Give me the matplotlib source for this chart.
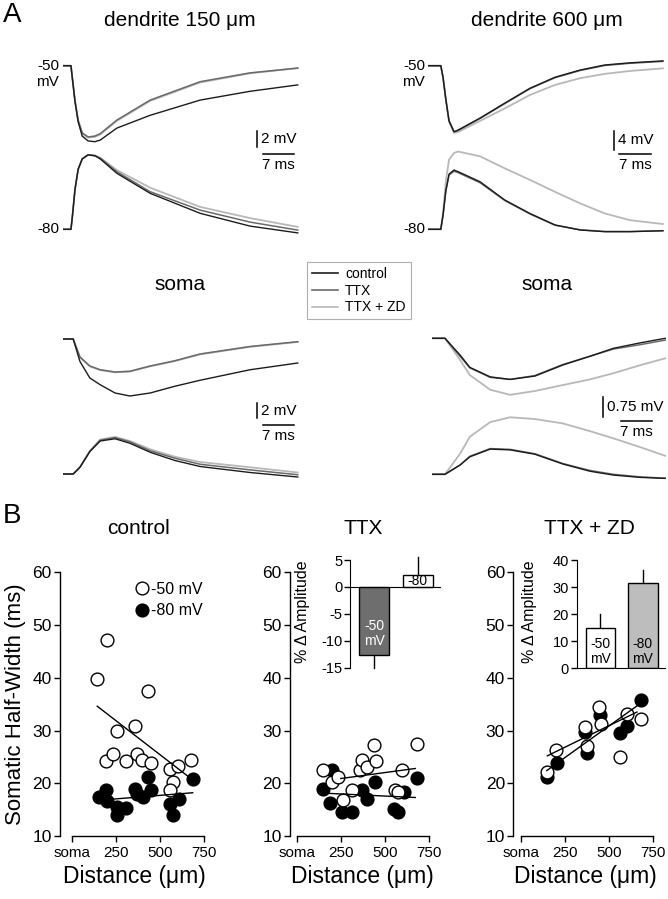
import numpy as np
import matplotlib
matplotlib.use('Agg')
import matplotlib.pyplot as plt
from matplotlib.lines import Line2D

plt.rcParams['font.family'] = ['Liberation Sans', 'DejaVu Sans']
plt.rcParams['axes.unicode_minus'] = False

W, H = 668, 899

# ── A: traces (time in ms, deflection from baseline in mV) ─────────────
# dendrite 150 um
D150_T     = [0, 1.7, 2.0, 2.6, 3.3, 4.2, 5.5, 7.0, 8.2, 11.9, 19.3, 30.4, 41.5, 52.1]
D150_C50   = [0, 0, -1.5, -4.5, -7.0, -8.8, -9.4, -9.5, -9.3, -7.8, -6.2, -4.3, -3.2, -2.4]
D150_T50   = [0, 0, -1.5, -4.4, -6.8, -8.4, -8.9, -8.8, -8.5, -6.8, -4.3, -2.0, -0.9, -0.3]
D150_Z50   = [0, 0, -1.5, -4.4, -6.9, -8.5, -9.0, -8.9, -8.6, -6.9, -4.4, -2.1, -0.95, -0.3]
D150_C80   = [0, 0, 1.5, 5.0, 7.5, 8.8, 9.3, 9.2, 8.8, 7.0, 4.5, 2.0, 0.4, -0.45]
D150_T80   = [0, 0, 1.5, 5.0, 7.5, 8.8, 9.3, 9.2, 8.9, 7.2, 4.7, 2.4, 0.9, -0.1]
D150_Z80   = [0, 0, 1.5, 5.0, 7.5, 8.8, 9.3, 9.25, 8.95, 7.4, 5.2, 2.8, 1.4, 0.3]

# dendrite 600 um
D600_T     = [0, 2.8, 3.3, 3.9, 4.6, 5.7, 6.6, 11.4, 16.8, 22.3, 27.8, 33.3, 38.7, 44.2, 51.4]
D600_C50   = [0, 0, -2.5, -7, -11.5, -13.75, -13.4, -10.9, -7.8, -4.7, -2.4, -0.9, 0.15, 0.6, 1.0]
D600_T50   = [0, 0, -2.5, -7, -11.5, -13.8, -13.5, -11.0, -7.9, -4.8, -2.5, -1.0, 0.05, 0.5, 0.9]
D600_Z50   = [0, 0, -2.5, -7, -11.6, -14.0, -13.8, -11.5, -8.9, -6.1, -4.0, -2.6, -1.7, -1.1, -0.55]
D600_C80   = [0, 0, 3, 8, 11.5, 12.35, 12.0, 9.9, 6.1, 3.3, 0.9, -0.15, -0.5, -0.5, -0.3]
D600_T80   = [0, 0, 3, 8, 11.3, 12.1, 11.8, 9.7, 6.0, 3.2, 0.85, -0.1, -0.45, -0.45, -0.3]
D600_Z80   = [0, 0, 3.5, 10, 14.5, 15.9, 16.2, 15.2, 12.7, 10.3, 7.8, 5.4, 3.3, 1.9, 1.1]

# soma (150 um cell)
SL_T       = [0, 2.2, 3.7, 5.9, 8.2, 11.5, 14.8, 19.3, 24.8, 30.4, 41.5, 52.1]
SL_C50     = [0, 0, -3.0, -5.2, -6.1, -7.2, -7.6, -7.2, -6.3, -5.5, -4.1, -3.2]
SL_T50     = [0, 0, -2.4, -3.6, -4.1, -4.4, -4.3, -3.6, -2.9, -2.0, -1.0, -0.36]
SL_Z50     = [0, 0, -2.45, -3.65, -4.15, -4.45, -4.35, -3.65, -2.95, -2.05, -1.05, -0.4]
SL_C80     = [0, 0, 0.9, 3.0, 4.4, 4.7, 4.1, 2.9, 1.8, 1.0, 0.2, -0.4]
SL_T80     = [0, 0, 0.9, 3.0, 4.5, 4.85, 4.3, 3.1, 2.1, 1.3, 0.55, -0.1]
SL_Z80     = [0, 0, 0.9, 3.1, 4.6, 4.95, 4.4, 3.3, 2.3, 1.6, 0.9, 0.2]

# soma (600 um cell)
SR_T       = [0, 3.0, 6.4, 8.6, 13.2, 17.7, 23.3, 29.6, 35.7, 41.0, 47.0, 52.7]
SR_C50     = [0, 0, -0.65, -1.13, -1.5, -1.6, -1.47, -1.04, -0.7, -0.39, -0.18, 0]
SR_T50     = [0, 0, -0.7, -1.15, -1.52, -1.6, -1.45, -1.02, -0.7, -0.42, -0.25, -0.07]
SR_Z50     = [0, 0, -0.84, -1.43, -2.0, -2.2, -2.05, -1.82, -1.6, -1.36, -1.05, -0.78]
SR_C80     = [0, 0, 0.36, 0.68, 0.98, 0.95, 0.78, 0.4, 0.12, -0.03, -0.12, -0.16]
SR_T80     = [0, 0, 0.36, 0.7, 1.0, 0.97, 0.8, 0.42, 0.15, 0.0, -0.1, -0.15]
SR_Z80     = [0, 0, 0.8, 1.46, 2.03, 2.22, 2.15, 1.98, 1.68, 1.4, 1.06, 0.72]

# ── B: somatic half-width vs distance ──────────────────────────────────
CTRL_D50 = [145, 199, 435, 256, 360, 195, 236, 309, 369, 398, 449, 555, 602, 577, 558, 678]
CTRL_W50 = [39.7, 47.2, 37.5, 30.0, 30.8, 24.2, 25.5, 24.2, 25.5, 24.5, 23.8, 22.7, 23.2, 20.3, 18.7, 24.5]
CTRL_D80 = [155, 195, 199, 256, 259, 309, 360, 369, 407, 435, 449, 558, 608, 577, 686]
CTRL_W80 = [17.3, 18.7, 16.7, 15.5, 14.0, 15.3, 19.0, 17.9, 17.3, 21.1, 18.7, 16.0, 17.0, 14.0, 20.9]
CTRL_FIT50 = ([145, 687], [34.6, 20.6])
CTRL_FIT80 = ([236, 686], [17.0, 18.2])

TTX_D50 = [148, 199, 236, 265, 312, 360, 369, 398, 449, 439, 555, 577, 596, 682]
TTX_W50 = [22.5, 20.3, 21.2, 16.8, 18.7, 22.5, 24.4, 23.1, 24.2, 27.2, 18.7, 18.4, 22.5, 27.4]
TTX_D80 = [148, 199, 189, 256, 312, 369, 398, 445, 549, 577, 606, 682]
TTX_W80 = [19.0, 22.5, 16.2, 14.6, 14.6, 18.7, 17.1, 20.3, 15.2, 14.6, 18.4, 21.0]
TTX_FIT50 = ([250, 672], [20.9, 22.8])
TTX_FIT80 = ([170, 672], [18.1, 17.3])

ZD_D50 = [149, 199, 364, 373, 443, 453, 562, 600, 680]
ZD_W50 = [22.2, 26.4, 30.7, 27.0, 34.5, 31.2, 25.0, 33.2, 32.1]
ZD_D80 = [146, 203, 364, 373, 449, 562, 600, 680]
ZD_W80 = [21.1, 23.8, 29.8, 25.7, 32.9, 29.6, 30.8, 35.8]
ZD_FIT50 = ([149, 657], [25.2, 33.5])
ZD_FIT80 = ([146, 688], [22.4, 35.4])

# insets: % change in amplitude (-50 mV, -80 mV)
TTX_AMP = [-12.7, 2.2]
TTX_ERR = [2.4, 3.3]
ZD_AMP  = [14.8, 31.5]
ZD_ERR  = [5.2, 4.8]

C_CTRL, C_TTX, C_ZD = '#1c1c1c', '#6a6a6a', '#b8b8b8'

fig = plt.figure(figsize=(W / 100, H / 100), dpi=100)


def box(l, t, r, b):
    return [l / W, 1 - b / H, (r - l) / W, (b - t) / H]


def ftext(x, y, s, **kw):
    fig.text(x / W, 1 - y / H, s, **kw)


# ── trace panels ───────────────────────────────────────────────────────
def trace_panel(l, t, r, b, x0, y50, y80, ppms, ppmv, T, traces, bar):
    ax = fig.add_axes(box(l, t, r, b))
    ax.set_xlim((l - x0) / ppms, (r - x0) / ppms)
    ax.set_ylim((y50 - b) / ppmv, (y50 - t) / ppmv)
    ax.axis('off')
    off80 = (y50 - y80) / ppmv
    # light -> dark so that control lies on top
    for (v50, v80), c, lw in zip(traces, [C_ZD, C_TTX, C_CTRL], [1.3, 1.1, 1.0]):
        ax.plot(T, v50, color=c, lw=lw, solid_joinstyle='round')
        ax.plot(T, np.array(v80) + off80, color=c, lw=lw, solid_joinstyle='round')

    def d(x, y):
        return (x - x0) / ppms, (y50 - y) / ppmv
    vx, vyb, mv, hx, hy, ms, lab = bar
    xb, yb = d(vx, vyb)
    ax.plot([xb, xb], [yb, yb + mv], color='k', lw=1.1)
    xh, yh = d(hx, hy)
    ax.plot([xh, xh + ms], [yh, yh], color='k', lw=1.1)
    ax.text(xb + 4 / ppms, yb + mv / 2, lab, ha='left', va='center', fontsize=11)
    ax.text(xh + ms / 2, yh - 4 / ppmv, f'{ms:g} ms', ha='center', va='top', fontsize=11)
    return ax


order = lambda c50, t50, z50, c80, t80, z80: [(z50, z80), (t50, t80), (c50, c80)]

trace_panel(63.3, 45, 300, 245, 63.3, 65.7, 229.3, 4.5, 8.0, D150_T,
            order(D150_C50, D150_T50, D150_Z50, D150_C80, D150_T80, D150_Z80),
            (257, 146.7, 2, 262.7, 154.3, 7, '2 mV'))
trace_panel(428, 45, 668, 245, 428, 65.7, 229.3, 4.57, 4.8, D600_T,
            order(D600_C50, D600_T50, D600_Z50, D600_C80, D600_T80, D600_Z80),
            (614, 150, 4, 619, 154.3, 7, '4 mV'))
trace_panel(63.3, 320, 300, 495, 63.3, 339, 474, 4.5, 7.5, SL_T,
            order(SL_C50, SL_T50, SL_Z50, SL_C80, SL_T80, SL_Z80),
            (256.7, 418.3, 2, 262.7, 425, 7, '2 mV'))
trace_panel(431.7, 320, 668, 495, 431.7, 338.3, 474.3, 4.43, 25.7, SR_T,
            order(SR_C50, SR_T50, SR_Z50, SR_C80, SR_T80, SR_Z80),
            (603.3, 416.7, 0.75, 620.7, 420.7, 7, '0.75 mV'))

# labels of panel A
ftext(12, 15, 'A', fontsize=20, ha='center', va='center')
ftext(180, 20, 'dendrite 150 μm', fontsize=15, ha='center', va='center')
ftext(547, 20, 'dendrite 600 μm', fontsize=15, ha='center', va='center')
ftext(180, 284, 'soma', fontsize=15, ha='center', va='center')
ftext(547, 284, 'soma', fontsize=15, ha='center', va='center')
for xr in (59, 425):
    ftext(xr, 65.7, '-50', fontsize=11, ha='right', va='center')
    ftext(xr, 82, 'mV', fontsize=11, ha='right', va='center')
    ftext(xr, 229.3, '-80', fontsize=11, ha='right', va='center')

handles = [Line2D([], [], color=c, lw=1.2) for c in (C_CTRL, C_TTX, C_ZD)]
leg = fig.legend(handles, ['control', 'TTX', 'TTX + ZD'], loc='upper left',
                 bbox_to_anchor=(307 / W, 1 - 262 / H), fontsize=10,
                 frameon=True, fancybox=False, edgecolor='#9a9a9a',
                 handlelength=1.9, handletextpad=0.5, labelspacing=0.2,
                 borderpad=0.35, borderaxespad=0)
leg.get_frame().set_linewidth(0.8)

# ── panel B ─────────────────────────────────────────────────────────────
ftext(12, 516, 'B', fontsize=20, ha='center', va='center')

K = 132.3 / 750   # px per um


def scatter_panel(spine_x, soma_x, title, title_x, d50, w50, d80, w80, fit50, fit80):
    right = soma_x + 132.3 + 5
    ax = fig.add_axes(box(spine_x, 572.3, right, 836))
    ax.set_xlim(-(soma_x - spine_x) / K, 750 + 5 / K)
    ax.set_ylim(10, 60)
    for s in ('top', 'right'):
        ax.spines[s].set_visible(False)
    ax.spines['bottom'].set_bounds(0, 750)
    ax.spines['left'].set_linewidth(1.0)
    ax.spines['bottom'].set_linewidth(1.0)
    ax.set_xticks([0, 250, 500, 750])
    ax.set_xticklabels(['soma', '250', '500', '750'], fontsize=11)
    ax.set_yticks([10, 20, 30, 40, 50, 60])
    ax.tick_params(axis='y', labelsize=12.5, direction='out', length=4, width=1, pad=2)
    ax.tick_params(axis='x', direction='out', length=4, width=1, pad=3)
    ax.patch.set_visible(False)

    ax.plot(d80, w80, 'o', ms=9.2, mfc='k', mec='k', mew=1, ls='none', clip_on=False, zorder=3)
    ax.plot(d50, w50, 'o', ms=9.2, mfc='white', mec='k', mew=1, ls='none', clip_on=False, zorder=4)
    ax.plot(*fit50, color='k', lw=1.0, zorder=5)
    ax.plot(*fit80, color='k', lw=1.0, zorder=5)

    ax.set_xlabel('Distance (μm)', fontsize=16.5, labelpad=4)
    ftext(title_x, 528, title, fontsize=15, ha='center', va='center')
    return ax


ax1 = scatter_panel(60, 71.7, 'control', 138, CTRL_D50, CTRL_W50, CTRL_D80, CTRL_W80,
                    CTRL_FIT50, CTRL_FIT80)
ftext(16, 704, 'Somatic Half-Width (ms)', fontsize=16, rotation=90, ha='center', va='center')
ax1.plot([], [], 'o', ms=9.2, mfc='white', mec='k', label='-50 mV')
ax1.plot([], [], 'o', ms=9.2, mfc='k', mec='k', label='-80 mV')
ax1.legend(loc='upper right', bbox_to_anchor=(1.02, 1.0), frameon=False, fontsize=11.5,
           handletextpad=0.05, labelspacing=0.4, borderaxespad=0.2, handlelength=1.0)

scatter_panel(290, 296.7, 'TTX', 363, TTX_D50, TTX_W50, TTX_D80, TTX_W80,
              TTX_FIT50, TTX_FIT80)
scatter_panel(513.3, 521, 'TTX + ZD', 589, ZD_D50, ZD_W50, ZD_D80, ZD_W80,
              ZD_FIT50, ZD_FIT80)


# ── insets ─────────────────────────────────────────────────────────────
def inset(l, t, r, b, ylim, yticks, amp, err, colors, labels, label_y, txt_colors, lab_x):
    ax = fig.add_axes(box(l, t, r, b))
    ax.set_xlim(0, 3)
    ax.set_ylim(*ylim)
    xs = [0.8, 2.25]
    ax.bar(xs, amp, width=1.0, color=colors, edgecolor='k', linewidth=1.0, zorder=2)
    for x, a, e in zip(xs, amp, err):
        ax.plot([x, x], [a, a + np.sign(a) * e], color='k', lw=1.0, clip_on=False, zorder=1)
    for x, s, y, c in zip(xs, labels, label_y, txt_colors):
        ax.text(x, y, s, ha='center', va='center', fontsize=10, color=c, linespacing=1.1)
    for s in ('top', 'right'):
        ax.spines[s].set_visible(False)
    ax.spines['bottom'].set_position(('data', 0))
    ax.set_xticks([])
    ax.set_yticks(yticks)
    ax.tick_params(axis='y', labelsize=10.5, direction='out', length=4, width=1, pad=1.5)
    ax.patch.set_visible(False)
    ax.set_ylabel('% Δ Amplitude', fontsize=11.5)
    ax.yaxis.set_label_coords(lab_x, 0.52)
    return ax


inset(350, 560, 440, 667.7, (-15, 5), [-15, -10, -5, 0, 5], TTX_AMP, TTX_ERR,
      ['#6e6e6e', 'white'], ['-50\nmV', '-80'], [-8.7, 1.1], ['white', 'k'], -0.44)
inset(576.7, 560, 665, 668.3, (0, 40), [0, 10, 20, 30, 40], ZD_AMP, ZD_ERR,
      ['white', '#bdbdbd'], ['-50\nmV', '-80\nmV'], [6.3, 6.3], ['k', 'k'], -0.45)

fig.savefig('out.png', dpi=100)
